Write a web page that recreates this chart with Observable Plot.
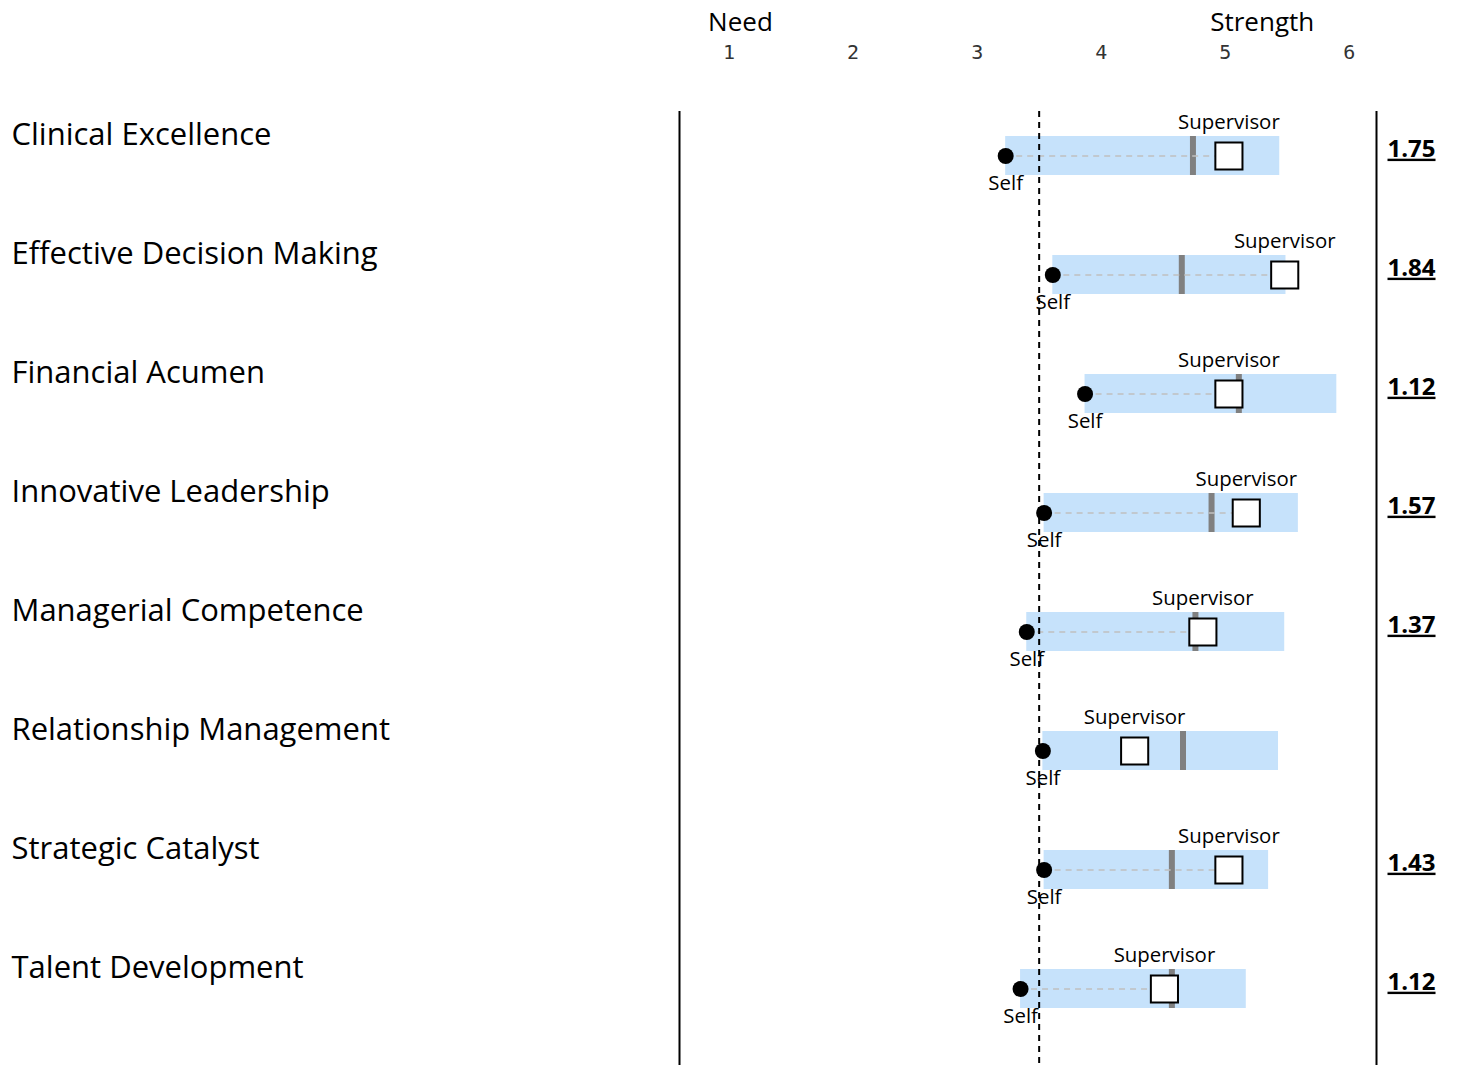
<!DOCTYPE html>
<html>
<head>
<meta charset="utf-8">
<script src="https://cdn.jsdelivr.net/npm/d3@7"></script>
<script src="https://cdn.jsdelivr.net/npm/@observablehq/plot@0.6"></script>
<style>
  html, body { margin: 0; padding: 0; background: #fff; }
  #chart svg { display: block; }
</style>
</head>
<body>
<div id="chart"></div>
<script>
const categories = [
  "Clinical Excellence",
  "Effective Decision Making",
  "Financial Acumen",
  "Innovative Leadership",
  "Managerial Competence",
  "Relationship Management",
  "Strategic Catalyst",
  "Talent Development"
];
const selfScores       = [3.23, 3.61, 3.87, 3.54, 3.40, 3.53, 3.54, 3.35];
const supervisorScores = [5.03, 5.48, 5.03, 5.17, 4.82, 4.27, 5.03, 4.51];
const normScores       = [4.74, 4.65, 5.11, 4.89, 4.76, 4.66, 4.57, 4.57];
const rangeHigh        = [5.44, 5.49, 5.90, 5.59, 5.48, 5.43, 5.35, 5.17];
const gapLabels        = ["1.75", "1.84", "1.12", "1.57", "1.37", null, "1.43", "1.12"];
const tickValues = [1, 2, 3, 4, 5, 6];
const midpoint = 3.5;
const scaleDomain = [0.6, 6.22];

const rows = categories.map((c, i) => ({
  cat: c,
  self: selfScores[i],
  sup: supervisorScores[i],
  norm: normScores[i],
  high: rangeHigh[i],
  gap: gapLabels[i]
}));
const gapRows = rows.filter(d => d.gap != null);

const FONT = "Open Sans, Noto Sans, sans-serif";

const chart = Plot.plot({
  width: 1460,
  height: 1065,
  marginLeft: 679,
  marginRight: 84,
  marginTop: 111,
  marginBottom: 0,
  style: { background: "#fff", fontFamily: FONT },
  x: { domain: scaleDomain, axis: null },
  y: { type: "band", domain: categories, range: [94.2, 1050.8], padding: 0, axis: null },
  marks: [
    Plot.barX(rows, { y: "cat", x1: "self", x2: "high", fill: "#C6E2FB", insetTop: 40, insetBottom: 40 }),
    Plot.tickX(rows, { y: "cat", x: "norm", stroke: "#808080", strokeWidth: 6, insetTop: 40, insetBottom: 40 }),
    Plot.ruleY(gapRows, { y: "cat", x1: "self", x2: "sup", stroke: "#c0c0c0", strokeWidth: 1.5, strokeDasharray: "6,5" }),
    Plot.dot(rows, { y: "cat", x: "self", r: 8, fill: "#000", stroke: null }),
    Plot.dot(rows, { y: "cat", x: "sup", symbol: "square", r: 15.3, fill: "#fff", stroke: "#000", strokeWidth: 2 }),
    Plot.text(rows, { y: "cat", x: "sup", text: () => "Supervisor", dy: -34, fontSize: 20.4, fill: "#000", fontFamily: FONT }),
    Plot.text(rows, { y: "cat", x: "self", text: () => "Self", dy: 27, fontSize: 20.4, fill: "#000", fontFamily: FONT }),
    Plot.ruleX(scaleDomain, { stroke: "#000", strokeWidth: 2 }),
    Plot.ruleX([midpoint], { stroke: "#000", strokeWidth: 2, strokeDasharray: "6,5" }),
    Plot.text(categories, { y: d => d, text: d => d, frameAnchor: "left", textAnchor: "start", lineAnchor: "middle", dx: -668, dy: -21, fontSize: 31, fill: "#000", fontFamily: FONT }),
    Plot.text(gapRows, { y: "cat", text: "gap", frameAnchor: "right", textAnchor: "middle", lineAnchor: "middle", dx: 35, dy: -7, fontSize: 24, fontWeight: "bold", fill: "#000", fontFamily: FONT }),
    Plot.text(tickValues, { x: d => d, text: d => String(d), frameAnchor: "top", lineAnchor: "middle", dy: -59, fontSize: 20, fill: "#333", fontFamily: "DejaVu Sans Mono, monospace" }),
    Plot.text(["Need"], { x: () => tickValues[0], text: d => d, frameAnchor: "top", textAnchor: "start", lineAnchor: "middle", dx: -21, dy: -89, fontSize: 26, fill: "#000", fontFamily: FONT }),
    Plot.text(["Strength"], { x: () => tickValues[tickValues.length - 1], text: d => d, frameAnchor: "top", textAnchor: "end", lineAnchor: "middle", dx: -35, dy: -89, fontSize: 26, fill: "#000", fontFamily: FONT })
  ]
});

document.getElementById("chart").appendChild(chart);

const gapSet = new Set(gapLabels.filter(Boolean));
chart.querySelectorAll("text").forEach(t => {
  if (gapSet.has(t.textContent)) t.style.textDecoration = "underline";
});
</script>
</body>
</html>
